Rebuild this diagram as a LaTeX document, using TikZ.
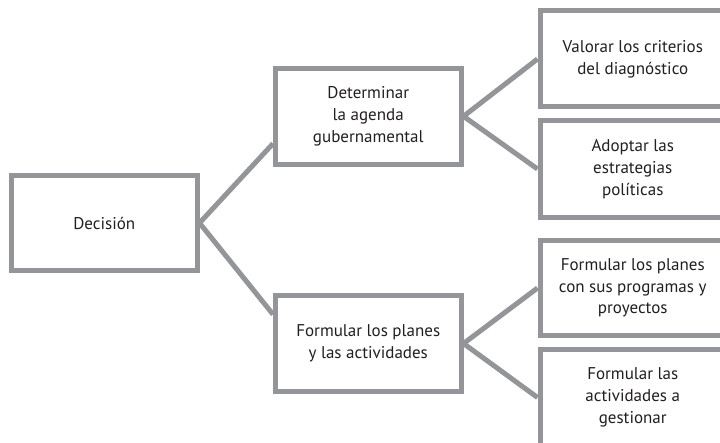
\documentclass[tikz,border=0pt]{standalone}
\usepackage{fontspec}
\setmainfont{PT Sans}
\usetikzlibrary{positioning, calc, backgrounds}
\definecolor{rahmen}{RGB}{147,149,152}
\definecolor{schrift}{RGB}{35,31,32}
\begin{document}
\begin{tikzpicture}[x=1pt, y=-1pt,
                    kasten/.style={draw=rahmen, line width=5pt, fill=white, minimum width=185.5pt, minimum height=96pt,
                                   inner sep=0pt, align=center, text=schrift, font=\fontsize{17}{21.7}\selectfont},
                    ast/.style={draw=rahmen, line width=5pt}]
                    \clip (0,0) rectangle (720,443);
                    \node[kasten, minimum height=95pt] (dec) at (104.25,223) {Decisión};
                    \node[kasten] (det) at (368.25,116.3) {Determinar\\la agenda\\gubernamental};
                    \node[kasten] (for) at (368.25,343.5) {Formular los planes\\y las actividades};
                    \node[kasten] (val) at (632.75,59) {Valorar los criterios\\del diagnóstico};
                    \node[kasten, minimum height=97pt] (ado) at (632.75,169) {Adoptar las\\estrategias\\políticas};
                    \node[kasten, minimum height=95pt] (pla) at (632.75,288) {Formular los planes\\con sus programas y\\proyectos};
                    \node[kasten] (act) at (632.75,397.5) {Formular las\\actividades a\\gestionar};
                    \begin{scope}[on background layer]
                    \draw[ast] (dec.east) -- (det.196);
                    \draw[ast] (dec.east) -- (for.163);
                    \draw[ast] (det.east) -- (val.west);
                    \draw[ast] (det.east) -- (ado.west);
                    \draw[ast] (for.east) -- (pla.west);
                    \draw[ast] (for.east) -- (act.west);
                    \end{scope}
                \end{tikzpicture}
\end{document}
